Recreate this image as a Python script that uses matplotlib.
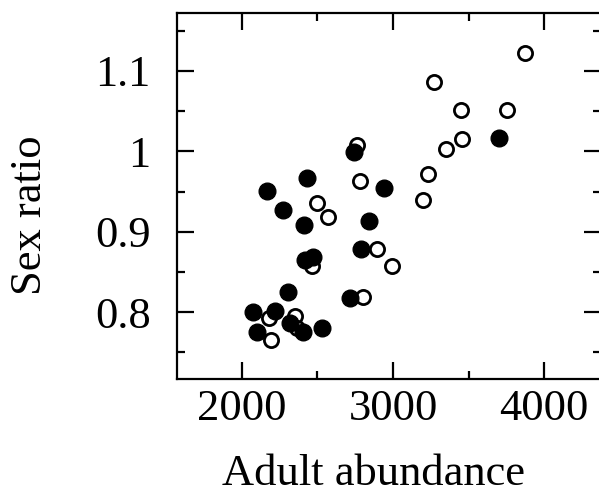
import numpy as np
import matplotlib.pyplot as plt
from matplotlib.ticker import MultipleLocator

# open circles
open_abundance = [3872, 3271, 3447, 3751, 3456, 3352, 3233, 3196,
                  2760, 2782, 2496, 2572, 2892, 2995, 2800, 2463,
                  2182, 2352, 2194, 2367]
open_ratio = [1.122, 1.086, 1.052, 1.052, 1.015, 1.003, 0.972, 0.940,
              1.008, 0.963, 0.936, 0.918, 0.878, 0.857, 0.819, 0.857,
              0.793, 0.795, 0.766, 0.781]

# filled circles
filled_abundance = [3698, 2744, 2434, 2167, 2942, 2271, 2412, 2841,
                    2786, 2418, 2473, 2304, 2716, 2077, 2220, 2099,
                    2319, 2403, 2533]
filled_ratio = [1.017, 0.999, 0.967, 0.951, 0.954, 0.927, 0.909, 0.913,
                0.879, 0.865, 0.869, 0.825, 0.818, 0.800, 0.801, 0.776,
                0.787, 0.776, 0.780]

plt.rcParams['font.family'] = ['Liberation Serif', 'DejaVu Serif']

fig = plt.figure(figsize=(5.99, 4.99), dpi=100)
ax = fig.add_axes([177 / 599, 1 - 379 / 499, (601 - 177) / 599, (379 - 13) / 499])

ax.plot(open_abundance, open_ratio, 'o', markersize=10.2, markerfacecolor='white',
        markeredgecolor='black', markeredgewidth=2.0, linestyle='none')
ax.plot(filled_abundance, filled_ratio, 'o', markersize=12, color='black',
        linestyle='none')

ax.set_xlim(1572, 4375)
ax.set_ylim(0.717, 1.172)

ax.xaxis.set_major_locator(MultipleLocator(1000))
ax.xaxis.set_minor_locator(MultipleLocator(500))
ax.yaxis.set_major_locator(MultipleLocator(0.1))
ax.yaxis.set_minor_locator(MultipleLocator(0.05))
ax.set_yticks([0.8, 0.9, 1.0, 1.1])
ax.set_yticklabels(['0.8', '0.9', '1', '1.1'])

ax.tick_params(which='both', direction='in', top=True, right=True, width=1.6,
               labelsize=32)
ax.tick_params(axis='x', pad=7)
ax.tick_params(axis='y', pad=19)
ax.tick_params(which='major', length=12)
ax.tick_params(which='minor', length=6)
for s in ax.spines.values():
    s.set_linewidth(1.6)

ax.set_xlabel('Adult abundance', fontsize=32)
ax.set_ylabel('Sex ratio', fontsize=32)
ax.xaxis.set_label_coords(0.463, -0.205)
ax.yaxis.set_label_coords(-0.30, 0.448)

fig.savefig('out.png', dpi=100)
